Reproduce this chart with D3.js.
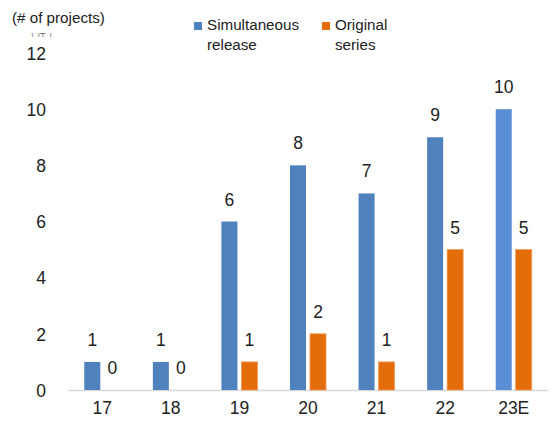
<!DOCTYPE html>
<html>
<head>
<meta charset="utf-8">
<script src="https://cdn.jsdelivr.net/npm/d3@7/dist/d3.min.js"></script>
<style>
  html, body { margin: 0; padding: 0; background: #fff; }
  svg { display: block; font-family: "Liberation Sans", Arial, Helvetica, sans-serif; }
</style>
</head>
<body>
<svg id="chart" width="554" height="421"></svg>
<script>
// Projects per year: simultaneous releases vs. original series
const categories = ["17", "18", "19", "20", "21", "22", "23E"];
const simultaneous = [1, 1, 6, 8, 7, 9, 10];
const original = [0, 0, 1, 2, 1, 5, 5];
const yTicks = [0, 2, 4, 6, 8, 10, 12];
const seriesNames = ["Simultaneous release", "Original series"];

const svg = d3.select("#chart");
const plotLeft = 68, plotRight = 548, plotTop = 53, plotBottom = 390;

const blue = "#4F81BD", blueLight = "#5A8FD6";
const orange = "#E46C0A";
const ink = "#222";

const x = d3.scaleBand().domain(categories).range([plotLeft, plotRight]).padding(0);
const y = d3.scaleLinear().domain([0, 12]).range([plotBottom, plotTop]);

const barW = 16;

// y-axis tick labels (no axis line, no gridlines)
const yAxis = d3.axisLeft(y).tickValues(yTicks).tickSize(0).tickPadding(0);
const gy = svg.append("g").attr("transform", "translate(46,0)").call(yAxis);
gy.select(".domain").remove();
gy.selectAll("text")
  .attr("font-size", 17.5)
  .attr("font-family", "Liberation Sans, Arial, sans-serif")
  .attr("fill", ink)
  .attr("dy", "0.36em");

// x-axis with category labels
const xAxis = d3.axisBottom(x).tickSize(0).tickPadding(0);
const gx = svg.append("g").attr("transform", `translate(0,${plotBottom})`).call(xAxis);
gx.select(".domain").attr("stroke", "#d9d9d9").attr("stroke-width", 1.5);
gx.selectAll("text")
  .attr("font-size", 17.5)
  .attr("font-family", "Liberation Sans, Arial, sans-serif")
  .attr("fill", ink)
  .attr("y", 24)
  .attr("dy", 0);

const groups = categories.map((c, i) => ({ c, i, s: simultaneous[i], o: original[i] }));
const center = d => x(d.c) + x.bandwidth() / 2;

// Simultaneous release bars
svg.append("g").selectAll("rect").data(groups).join("rect")
  .attr("x", d => center(d) - 18)
  .attr("y", d => y(d.s))
  .attr("width", barW)
  .attr("height", d => y(0) - y(d.s))
  .attr("fill", d => d.c === "23E" ? blueLight : blue);

// Original series bars
svg.append("g").selectAll("rect").data(groups.filter(d => d.o > 0)).join("rect")
  .attr("x", d => center(d) + 2)
  .attr("y", d => y(d.o))
  .attr("width", barW)
  .attr("height", d => y(0) - y(d.o))
  .attr("fill", orange)
  .attr("stroke", "#f09a55")
  .attr("stroke-width", 0.8);

// Value labels above bars
const lbl = svg.append("g")
  .attr("font-size", 17.5)
  .attr("fill", ink)
  .attr("text-anchor", "middle");
lbl.selectAll("text.s").data(groups).join("text").attr("class", "s")
  .attr("x", d => center(d) - 10)
  .attr("y", d => y(d.s) - 16)
  .text(d => d.s);
lbl.selectAll("text.o").data(groups).join("text").attr("class", "o")
  .attr("x", d => center(d) + 10)
  .attr("y", d => y(d.o) - 16)
  .text(d => d.o);

// Unit label
svg.append("text")
  .attr("x", 12).attr("y", 23)
  .attr("font-size", 15.2)
  .attr("fill", ink)
  .text("(# of projects)");

// Secondary unit label, mostly tucked under the main one
svg.append("defs").append("clipPath").attr("id", "unitClip")
  .append("rect").attr("x", 0).attr("y", 33).attr("width", 80).attr("height", 4);
svg.append("text")
  .attr("clip-path", "url(#unitClip)")
  .attr("x", 31).attr("y", 36)
  .attr("font-size", 9)
  .attr("letter-spacing", 3)
  .attr("font-family", "Noto Sans CJK JP, sans-serif")
  .attr("fill", "#666")
  .text("(件)");

// Legend
const legend = [
  { name: seriesNames[0], lines: ["Simultaneous", "release"], color: blue, x: 194 },
  { name: seriesNames[1], lines: ["Original", "series"], color: orange, x: 322 }
];
const lg = svg.append("g");
legend.forEach(l => {
  lg.append("rect").attr("x", l.x).attr("y", 22).attr("width", 8).attr("height", 8).attr("fill", l.color);
  const t = lg.append("text").attr("x", l.x + 13).attr("y", 30)
    .attr("font-size", 15.2).attr("fill", ink);
  l.lines.forEach((s, k) => {
    t.append("tspan").attr("x", l.x + 13).attr("dy", k === 0 ? 0 : 20).text(s);
  });
});
</script>
</body>
</html>
